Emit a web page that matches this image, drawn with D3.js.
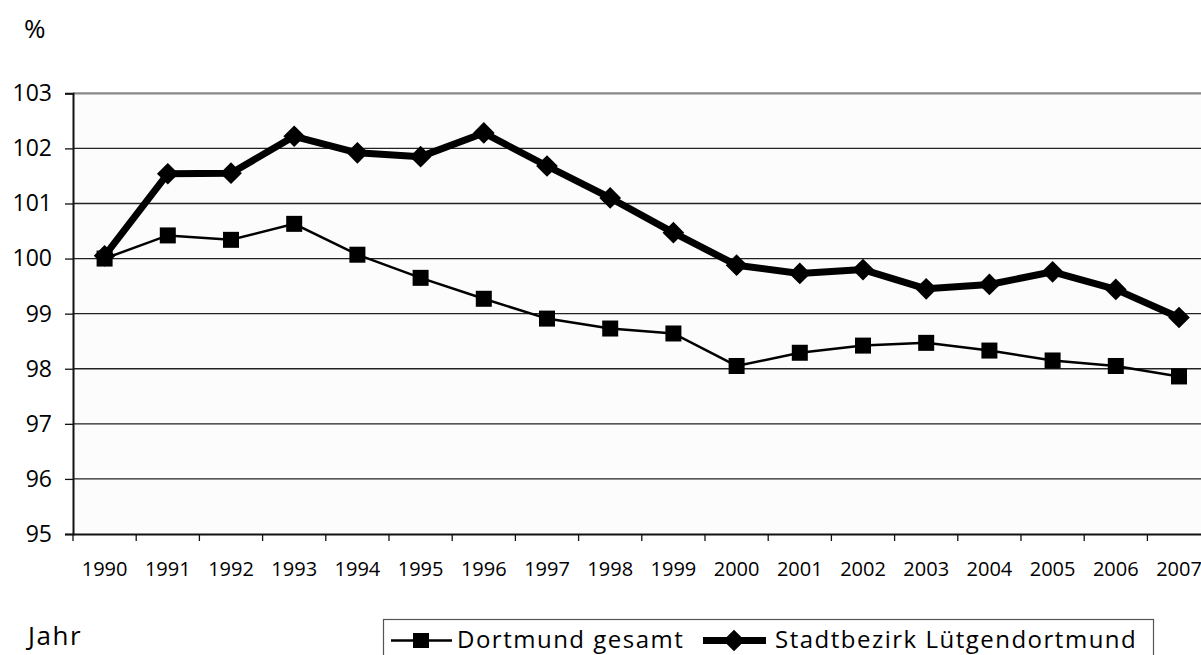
<!DOCTYPE html>
<html><head><meta charset="utf-8">
<script src="https://cdn.jsdelivr.net/npm/d3@7"></script>
<style>
html,body{margin:0;padding:0;background:#fff;}
svg{display:block;font-family:"Open Sans",sans-serif;}
</style></head>
<body><svg id="c" width="1201" height="655"></svg>
<script>
const years = ["1990","1991","1992","1993","1994","1995","1996","1997","1998","1999","2000","2001","2002","2003","2004","2005","2006","2007"];
const dortmund = [100.0,100.42,100.34,100.63,100.07,99.65,99.27,98.91,98.73,98.64,98.05,98.29,98.42,98.47,98.33,98.15,98.05,97.86];
const luetgendortmund = [100.05,101.54,101.55,102.22,101.92,101.85,102.28,101.68,101.1,100.47,99.88,99.73,99.8,99.45,99.53,99.76,99.44,98.93];
const yTicks = [95,96,97,98,99,100,101,102,103];
const seriesNames = ["Dortmund gesamt","Stadtbezirk Lütgendortmund"];

const svg = d3.select("#c");
const L = 73, T = 93.3, B = 534, band = 63.2;
const R = L + band * years.length;
const x = d3.scaleBand().domain(years).range([L, R]);
const y = d3.scaleLinear().domain([95,103]).range([B, T]);

// plot background
svg.append("rect").attr("x",L).attr("y",T).attr("width",R-L).attr("height",B-T).attr("fill","#fcfcfc");

// gridlines
svg.append("g").selectAll("line").data(yTicks.filter(d=>d>95 && d<103)).join("line")
  .attr("x1",L).attr("x2",R).attr("y1",d=>y(d)).attr("y2",d=>y(d))
  .attr("stroke","#222").attr("stroke-width",1.3);
svg.append("line").attr("x1",L).attr("x2",R).attr("y1",y(103)).attr("y2",y(103))
  .attr("stroke","#888").attr("stroke-width",2.2);

// y axis
const yAxis = svg.append("g").attr("transform",`translate(${L},0)`)
  .call(d3.axisLeft(y).tickValues(yTicks).tickSize(8).tickPadding(13).tickFormat(d3.format("d")));
yAxis.select(".domain").attr("stroke","#111").attr("stroke-width",2);
yAxis.selectAll(".tick line").attr("stroke","#111").attr("stroke-width",1.3);
yAxis.selectAll("text").attr("font-size",23).attr("fill","#000").attr("font-family","Open Sans");

// x axis
const xAxis = svg.append("g").attr("transform",`translate(0,${B})`)
  .call(d3.axisBottom(x).tickSize(0).tickPadding(28));
xAxis.select(".domain").attr("stroke","#111").attr("stroke-width",2);
xAxis.selectAll("text").attr("font-size",20).attr("fill","#000").attr("font-family","Open Sans");
svg.append("g").selectAll("line").data(d3.range(years.length+1)).join("line")
  .attr("x1",i=>L+i*band).attr("x2",i=>L+i*band).attr("y1",B).attr("y2",B+7)
  .attr("stroke","#111").attr("stroke-width",1.3);

const cx = d => x(d) + x.bandwidth()/2;
const line = d3.line().x((d,i)=>cx(years[i])).y(d=>y(d));

// Dortmund line
svg.append("path").datum(dortmund).attr("d",line).attr("fill","none").attr("stroke","#000").attr("stroke-width",2.5);
svg.append("g").selectAll("rect").data(dortmund).join("rect")
  .attr("x",(d,i)=>cx(years[i])-8).attr("y",d=>y(d)-8).attr("width",16).attr("height",16).attr("fill","#000");

// Luetgendortmund line
svg.append("path").datum(luetgendortmund).attr("d",line).attr("fill","none").attr("stroke","#000").attr("stroke-width",7).attr("stroke-linejoin","round");
const dia = d3.symbol().type(d3.symbolDiamond2).size(300);
svg.append("g").selectAll("path").data(luetgendortmund).join("path")
  .attr("transform",(d,i)=>`translate(${cx(years[i])},${y(d)})`).attr("d",dia).attr("fill","#000");

// titles
svg.append("text").attr("x",24).attr("y",38).attr("font-size",26).text("%");
svg.append("text").attr("x",28).attr("y",645).attr("font-size",26).attr("letter-spacing",1.5).text("Jahr");

// legend
const lg = svg.append("g");
lg.append("rect").attr("x",383.5).attr("y",619.5).attr("width",770).attr("height",50).attr("fill","#fff").attr("stroke","#555").attr("stroke-width",1.2);
lg.append("line").attr("x1",391).attr("x2",452).attr("y1",640.5).attr("y2",640.5).attr("stroke","#000").attr("stroke-width",2.5);
lg.append("rect").attr("x",413).attr("y",633).attr("width",16).attr("height",15).attr("fill","#000");
lg.append("text").attr("x",457).attr("y",648).attr("font-size",24).attr("letter-spacing",1.5).text(seriesNames[0]);
lg.append("line").attr("x1",703).attr("x2",766).attr("y1",640.5).attr("y2",640.5).attr("stroke","#000").attr("stroke-width",7);
lg.append("path").attr("transform","translate(734,640.5)").attr("d",dia).attr("fill","#000");
lg.append("text").attr("x",775).attr("y",648).attr("font-size",24).attr("letter-spacing",1.5).text(seriesNames[1]);
</script></body></html>
